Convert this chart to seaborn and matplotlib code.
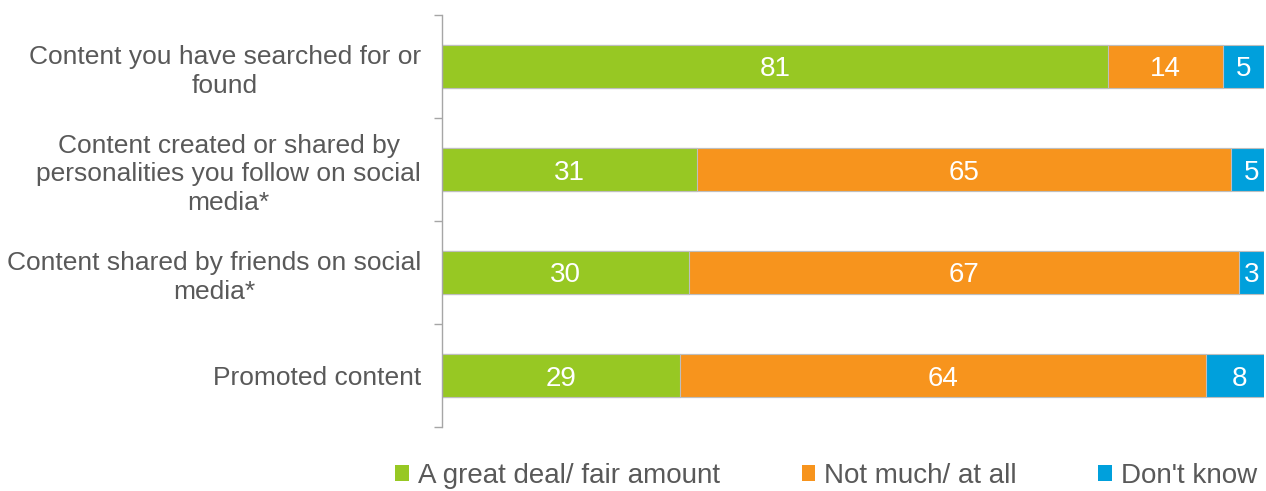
import matplotlib
matplotlib.use("Agg")
import matplotlib.pyplot as plt
import seaborn as sns
import pandas as pd
import numpy as np
from matplotlib.patches import Patch
from matplotlib.ticker import FixedLocator

categories = [
    "Content you have searched for or\nfound",
    "Content created or shared by\npersonalities you follow on social\nmedia*",
    "Content shared by friends on social\nmedia*",
    "Promoted content",
]
series_names = ["A great deal/ fair amount", "Not much/ at all", "Don't know"]
great_deal = [81, 31, 30, 29]
not_much = [14, 65, 67, 64]
dont_know = [5, 5, 3, 8]
colors = ["#97C823", "#F7941D", "#00A0DC"]

sns.set_theme(style="white")
plt.rcParams["font.family"] = ["Liberation Sans", "DejaVu Sans"]

fig = plt.figure(figsize=(12.66, 4.91), dpi=100)
ax = fig.add_axes([442/1266, 1-427/491, (1264-442)/1266, (427-15)/491])

series = [great_deal, not_much, dont_know]
cum = np.cumsum(np.array(series), axis=0)
# draw from the widest cumulative layer to the narrowest
for i in range(2, -1, -1):
    df = pd.DataFrame({"cat": categories, "val": cum[i]})
    sns.barplot(data=df, x="val", y="cat", orient="h", color=colors[i],
                saturation=1, width=0.41, edgecolor="#BEBEBE", linewidth=0.8,
                ax=ax, order=categories)

# value labels
for j in range(len(categories)):
    left = 0
    for i, s in enumerate(series):
        v = s[j]
        ax.text(left + v/2, j, str(v), color="white", fontsize=20,
                ha="center", va="center_baseline")
        left += v

ax.set_xlim(0, 100)
ax.set_ylim(3.5, -0.5)
ax.set_xlabel("")
ax.set_ylabel("")
ax.set_xticks([])
for sp in ["top", "right", "bottom"]:
    ax.spines[sp].set_visible(False)
ax.spines["left"].set_color("#A6A6A6")
ax.spines["left"].set_linewidth(1)
ax.yaxis.set_minor_locator(FixedLocator([-0.5, 0.5, 1.5, 2.5, 3.5]))
ax.tick_params(axis="y", which="minor", left=True, length=6, width=1,
               color="#A6A6A6", direction="out")
ax.tick_params(axis="y", which="major", left=False, length=0, pad=15)
for lab in ax.get_yticklabels():
    lab.set_fontsize(19)
    lab.set_color("#595959")
    lab.set_horizontalalignment("right")
    lab.set_multialignment("center")
    lab.set_linespacing(1.25)

handles = [Patch(facecolor=c, edgecolor="none") for c in colors]
leg = fig.legend(handles, series_names, loc="center", ncol=3,
                 bbox_to_anchor=(826/1266, 1-476/491), frameon=False,
                 fontsize=20, handlelength=0.5, handleheight=0.5,
                 handletextpad=0.3, columnspacing=2.95, labelcolor="#595959")

fig.savefig("out.png", dpi=100)
